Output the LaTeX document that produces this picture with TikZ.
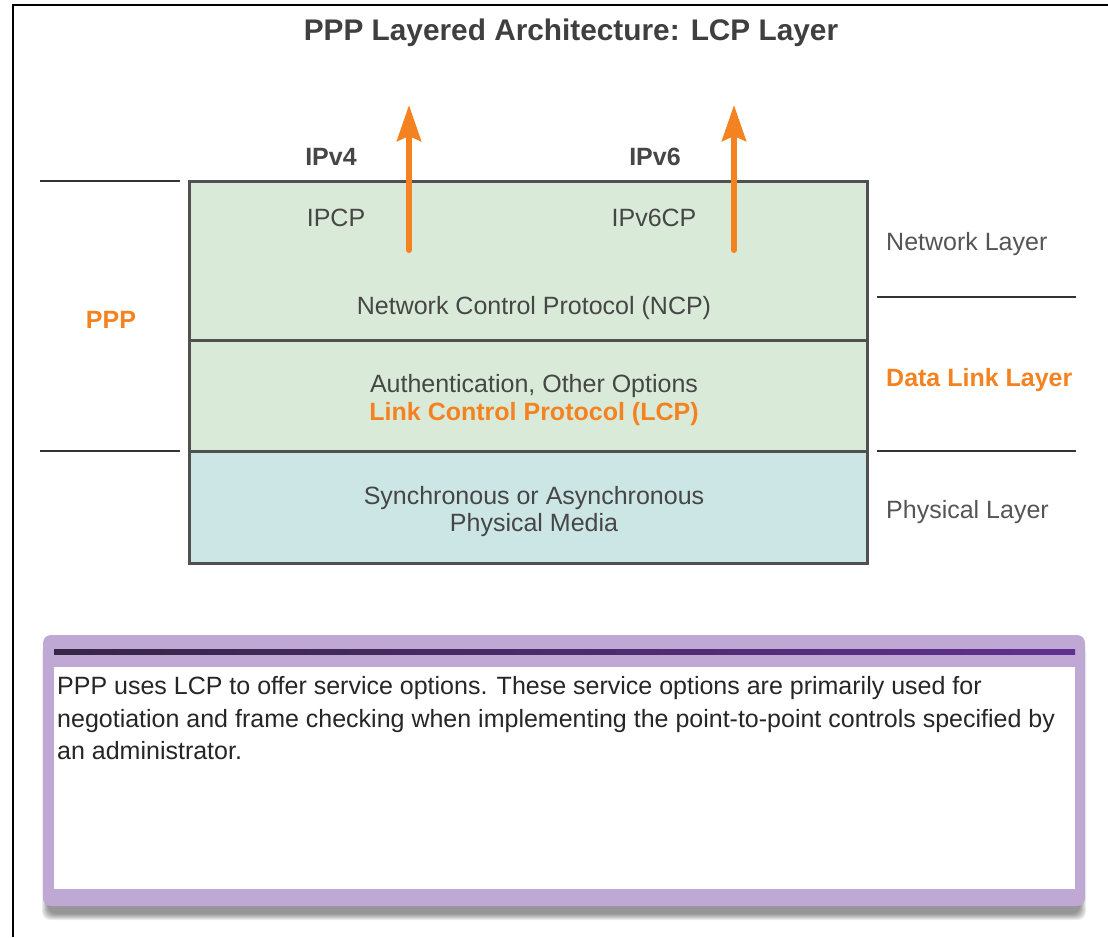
\documentclass[tikz,border=0pt]{standalone}
\usepackage{fontspec}
\setmainfont{Liberation Sans}
\usetikzlibrary{arrows.meta}
\definecolor{lgreen}{RGB}{217,234,216}
\definecolor{lteal}{RGB}{204,230,229}
\definecolor{bordergray}{RGB}{80,80,80}
\definecolor{txtgray}{RGB}{70,70,70}
\definecolor{lblgray}{RGB}{85,85,85}
\definecolor{orng}{RGB}{245,130,32}
\definecolor{purp}{RGB}{192,168,212}
\definecolor{darkpurpL}{RGB}{55,38,70}
\definecolor{darkpurpR}{RGB}{96,48,145}
\tikzset{
  layerbox/.style={draw=bordergray, line width=3pt, rectangle, inner sep=0pt, minimum width=678pt},
  txt/.style={inner sep=0pt, anchor=base, text=txtgray, font=\fontsize{25}{28}\selectfont},
  btxt/.style={inner sep=0pt, anchor=base, text=txtgray, font=\fontsize{25}{28}\selectfont\bfseries},
  otxt/.style={inner sep=0pt, anchor=base, text=orng, font=\fontsize{25}{28}\selectfont\bfseries},
  lbl/.style={inner sep=0pt, anchor=base west, text=lblgray, font=\fontsize{25}{28}\selectfont},
  bodytxt/.style={inner sep=0pt, anchor=base west, text=black!85, font=\fontsize{25}{33}\selectfont},
  sepline/.style={draw=black!80, line width=1.6pt},
  uparrow/.style={draw=orng, line width=6pt, line cap=round, -{Stealth[width=24pt,length=36pt,inset=5pt]}},
}
\begin{document}
\begin{tikzpicture}[x=1pt,y=-1pt]
\useasboundingbox (0,0) rectangle (1108,937);
\fill[white] (0,0) rectangle (1108,937);
% frame
\draw[black, line width=2.2pt] (13,937) -- (13,5) -- (1108,5);
% title
\node[inner sep=0pt, anchor=base, text=txtgray!90!black, font=\fontsize{29.8}{32}\selectfont\bfseries] (title) at (571,40) {PPP Layered Architecture: LCP Layer};
% layer boxes
\node[layerbox, fill=lgreen, minimum height=159pt] (ncp) at (528,260.5) {};
\node[layerbox, fill=lgreen, minimum height=111pt] (lcp) at (528,395.5) {};
\node[layerbox, fill=lteal, minimum height=112pt] (phy) at (528,507) {};
% separators
\coordinate (l1a) at (40,181); \coordinate (l1b) at (180,181);
\coordinate (l2a) at (40,451); \coordinate (l2b) at (180,451);
\coordinate (r1a) at (877,297); \coordinate (r1b) at (1076,297);
\coordinate (r2a) at (877,451); \coordinate (r2b) at (1076,451);
\draw[sepline] (l1a) -- (l1b);
\draw[sepline] (l2a) -- (l2b);
\draw[sepline] (r1a) -- (r1b);
\draw[sepline] (r2a) -- (r2b);
% arrows
\coordinate (a1s) at (409,250); \coordinate (a1e) at (409,105);
\coordinate (a2s) at (734,250); \coordinate (a2e) at (734,105);
\draw[uparrow] (a1s) -- (a1e);
\draw[uparrow] (a2s) -- (a2e);
% texts
\node[btxt] (ipv4) at (331,165) {IPv4};
\node[btxt] (ipv6) at (655,165) {IPv6};
\node[txt] (ipcp) at (336,226) {IPCP};
\node[txt] (ipv6cp) at (654,226) {IPv6CP};
\node[txt] (ncptxt) at (534,314) {Network Control Protocol (NCP)};
\node[txt] (auth) at (534,392) {Authentication, Other Options};
\node[otxt] (lcptxt) at (534,420) {Link Control Protocol (LCP)};
\node[txt] (sync) at (534,504) {Synchronous or Asynchronous};
\node[txt] (media) at (534,531) {Physical Media};
\node[otxt] (ppp) at (111,328) {PPP};
\node[lbl] (netl) at (886,250) {Network Layer};
\node[lbl, text=orng, font=\fontsize{25}{28}\selectfont\bfseries] (dll) at (886,386) {Data Link Layer};
\node[lbl] (phyl) at (886,518) {Physical Layer};
% bottom panel shadow
\foreach \i in {0,...,6}{
  \fill[black, opacity=0.07, rounded corners=8pt] (42+\i,644+\i) rectangle (1086-\i,920-\i);
}
% bottom panel
\fill[purp, rounded corners=8pt] (43,635) rectangle (1085,906);
\fill[white] (54,667) rectangle (1075,889);
\shade[left color=darkpurpL, right color=darkpurpR] (54,649) rectangle (1075,654);
\node[bodytxt] (body1) at (57,694) {PPP uses LCP to offer service options. These service options are primarily used for};
\node[bodytxt] (body2) at (57,727) {negotiation and frame checking when implementing the point-to-point controls specified by};
\node[bodytxt] (body3) at (57,759) {an administrator.};
\end{tikzpicture}
\end{document}
